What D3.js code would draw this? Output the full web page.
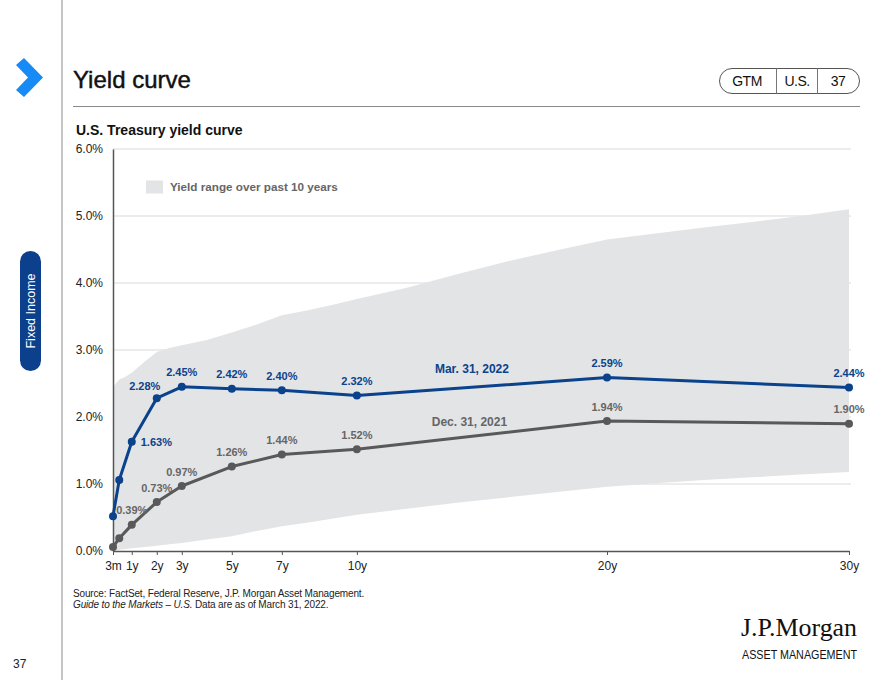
<!DOCTYPE html>
<html>
<head>
<meta charset="utf-8">
<script src="https://cdn.jsdelivr.net/npm/d3@7/dist/d3.min.js"></script>
<style>
  html, body { margin: 0; padding: 0; background: #fff; }
  svg { display: block; font-family: "Liberation Sans", Arial, sans-serif; }
</style>
</head>
<body>
<svg id="chart" width="880" height="680"></svg>
<script>
// ---------- DATA ----------
const maturities = [0.25, 0.5, 1, 2, 3, 5, 7, 10, 20, 30];
const mar2022 = [0.52, 1.06, 1.63, 2.28, 2.45, 2.42, 2.40, 2.32, 2.59, 2.44];
const dec2021 = [0.06, 0.19, 0.39, 0.73, 0.97, 1.26, 1.44, 1.52, 1.94, 1.90];
const mar2022Labels = [null, null, "1.63%", "2.28%", "2.45%", "2.42%", "2.40%", "2.32%", "2.59%", "2.44%"];
const dec2021Labels = [null, null, "0.39%", "0.73%", "0.97%", "1.26%", "1.44%", "1.52%", "1.94%", "1.90%"];

const tickYears = [0.25, 1, 2, 3, 5, 7, 10, 20, 30];
const tickLabels = ["3m", "1y", "2y", "3y", "5y", "7y", "10y", "20y", "30y"];
const yTicks = [0, 1, 2, 3, 4, 5, 6];

// 10-year yield range
const bandYears = [0.25, 0.5, 0.75, 1, 1.5, 2, 2.5, 3, 4, 5, 6, 7, 8, 9, 10, 12, 14, 16, 18, 20, 22, 24, 26, 28, 30];
const bandHigh  = [2.45, 2.56, 2.60, 2.66, 2.82, 2.97, 3.03, 3.07, 3.15, 3.26, 3.38, 3.52, 3.59, 3.67, 3.76, 3.93, 4.13, 4.32, 4.49, 4.65, 4.74, 4.83, 4.91, 5.00, 5.10];
const bandLow   = [0.00, 0.02, 0.03, 0.04, 0.06, 0.08, 0.10, 0.12, 0.17, 0.22, 0.30, 0.37, 0.42, 0.48, 0.54, 0.63, 0.72, 0.80, 0.88, 0.96, 1.01, 1.06, 1.10, 1.14, 1.18];

const seriesNames = ["Mar. 31, 2022", "Dec. 31, 2021"];
const seriesNamePos = [[14.6, 2.72], [14.5, 1.93]];

// ---------- LAYOUT ----------
const svg = d3.select("#chart");
const BLUE = "#0a428c", GRAY = "#595959", GRAYTXT = "#666666", BAND = "#e3e4e6";

const x = d3.scaleLinear().domain([0.25, 20, 30]).range([113, 607, 849]);
const y = d3.scaleLinear().domain([0, 6]).range([551, 149]);

// frame / page decorations
svg.append("line").attr("x1", 62).attr("x2", 62).attr("y1", 0).attr("y2", 680)
  .attr("stroke", "#8a8a8a").attr("stroke-width", 1);

svg.append("polygon")
  .attr("points", "16,65 24,58 43,77.5 24,97 16,90 28,77.5")
  .attr("fill", "#168af5");

svg.append("text").attr("x", 73).attr("y", 88).text("Yield curve")
  .attr("font-size", 24).attr("fill", "#111").attr("stroke", "#111").attr("stroke-width", 0.45);

svg.append("line").attr("x1", 73).attr("x2", 860).attr("y1", 106.5).attr("y2", 106.5)
  .attr("stroke", "#8a8a8a").attr("stroke-width", 1);

// GTM pill
const pill = svg.append("g");
pill.append("rect").attr("x", 719.5).attr("y", 68.5).attr("width", 140).attr("height", 25)
  .attr("rx", 12.5).attr("fill", "#fff").attr("stroke", "#555").attr("stroke-width", 1);
[776, 817].forEach(xx => pill.append("line").attr("x1", xx + 0.5).attr("x2", xx + 0.5)
  .attr("y1", 68.5).attr("y2", 93.5).attr("stroke", "#777"));
[["GTM", 747], ["U.S.", 797], ["37", 838]].forEach(([t, cx]) =>
  pill.append("text").attr("x", cx).attr("y", 86).attr("text-anchor", "middle")
    .attr("font-size", 14).attr("letter-spacing", -0.5).attr("fill", "#111").text(t));

// Fixed Income side tab
svg.append("rect").attr("x", 20).attr("y", 251).attr("width", 21).attr("height", 120)
  .attr("rx", 10.5).attr("fill", "#0c3f8c");
svg.append("text").attr("transform", "translate(35,311) rotate(-90)")
  .attr("text-anchor", "middle").attr("font-size", 12.5).attr("fill", "#fff").text("Fixed Income");

// page number
svg.append("text").attr("x", 13).attr("y", 668).attr("font-size", 12).attr("fill", "#222").text("37");

// subtitle
svg.append("text").attr("x", 76).attr("y", 135).attr("font-size", 14).attr("font-weight", "bold")
  .attr("fill", "#111").text("U.S. Treasury yield curve");

// ---------- CHART ----------
const g = svg.append("g");

// gridlines
g.selectAll(".grid").data(yTicks.filter(d => d > 0)).join("line")
  .attr("x1", x(0.25)).attr("x2", 851)
  .attr("y1", d => y(d)).attr("y2", d => y(d))
  .attr("stroke", "#d9d9d9").attr("stroke-width", 1.2);

// band
const bandData = bandYears.map((yr, i) => ({ yr, hi: bandHigh[i], lo: bandLow[i] }));
g.append("path").datum(bandData)
  .attr("d", d3.area().x(d => x(d.yr)).y0(d => y(d.lo)).y1(d => y(d.hi)))
  .attr("fill", BAND);

// y axis
const yAxis = d3.axisLeft(y).tickValues(yTicks).tickFormat(d => d.toFixed(1) + "%").tickSize(0).tickPadding(10);
const yg = g.append("g").attr("transform", `translate(${x(0.25)},0)`).call(yAxis);
yg.select(".domain").attr("stroke", "#555").attr("stroke-width", 1.5);
yg.selectAll("text").attr("font-size", 12).attr("fill", "#222")
  .attr("font-family", "Liberation Sans, Arial, sans-serif");

// x axis
const xAxis = d3.axisBottom(x).tickValues(tickYears).tickFormat((d, i) => tickLabels[i]).tickSizeInner(4).tickSizeOuter(0).tickPadding(6);
const xg = g.append("g").attr("transform", `translate(0,${y(0)})`).call(xAxis);
xg.select(".domain").attr("stroke", "#555").attr("stroke-width", 1.5);
xg.selectAll(".tick line").attr("stroke", "#555");
xg.selectAll("text").attr("font-size", 12).attr("fill", "#222")
  .attr("font-family", "Liberation Sans, Arial, sans-serif");

// legend
svg.append("rect").attr("x", 146).attr("y", 180.5).attr("width", 17).attr("height", 13).attr("fill", BAND);
svg.append("text").attr("x", 170).attr("y", 191).attr("font-size", 11.7).attr("font-weight", "bold")
  .attr("fill", GRAYTXT).text("Yield range over past 10 years");

// series
function drawSeries(vals, color, labels, labelColor, special) {
  const pts = maturities.map((m, i) => ({ m, v: vals[i], lab: labels[i], i }));
  g.append("path").datum(pts)
    .attr("d", d3.line().x(d => x(d.m)).y(d => y(d.v)))
    .attr("fill", "none").attr("stroke", color).attr("stroke-width", 3).attr("stroke-linejoin", "round");
  g.selectAll(null).data(pts).join("circle")
    .attr("cx", d => x(d.m)).attr("cy", d => y(d.v)).attr("r", 4).attr("fill", color);
  g.selectAll(null).data(pts.filter(d => d.lab)).join("text")
    .attr("x", d => x(d.m) + (special[d.i] ? special[d.i][0] : 0))
    .attr("y", d => y(d.v) + (special[d.i] ? special[d.i][1] : -10.5))
    .attr("text-anchor", d => (special[d.i] && special[d.i][2]) || "middle")
    .attr("font-size", 11).attr("font-weight", "bold").attr("fill", labelColor)
    .text(d => d.lab);
}
drawSeries(dec2021, GRAY, dec2021Labels, GRAYTXT, {});
drawSeries(mar2022, BLUE, mar2022Labels, BLUE, { 2: [9, 4, "start"], 3: [-12, -8, "middle"] });

// series names
[BLUE, GRAYTXT].forEach((c, i) =>
  g.append("text").attr("x", x(seriesNamePos[i][0])).attr("y", y(seriesNamePos[i][1]) + 4)
    .attr("text-anchor", "middle").attr("font-size", 12).attr("font-weight", "bold")
    .attr("fill", c).text(seriesNames[i]));

// footnote
svg.append("text").attr("x", 73).attr("y", 597).attr("font-size", 10).attr("fill", "#222")
  .attr("letter-spacing", -0.15)
  .text("Source: FactSet, Federal Reserve, J.P. Morgan Asset Management.");
const fn2 = svg.append("text").attr("x", 73).attr("y", 608).attr("font-size", 10).attr("fill", "#222")
  .attr("letter-spacing", -0.15);
fn2.append("tspan").attr("font-style", "italic").text("Guide to the Markets – U.S.");
fn2.append("tspan").text(" Data are as of March 31, 2022.");

// logo
svg.append("text").attr("x", 741).attr("y", 636).attr("font-size", 25)
  .attr("font-family", "Liberation Serif, Times New Roman, serif").attr("fill", "#111")
  .attr("textLength", 116).attr("lengthAdjust", "spacingAndGlyphs").text("J.P.Morgan");
svg.append("text").attr("x", 742).attr("y", 659).attr("font-size", 13)
  .attr("fill", "#111").attr("textLength", 115).attr("lengthAdjust", "spacingAndGlyphs")
  .text("ASSET MANAGEMENT");
</script>
</body>
</html>
